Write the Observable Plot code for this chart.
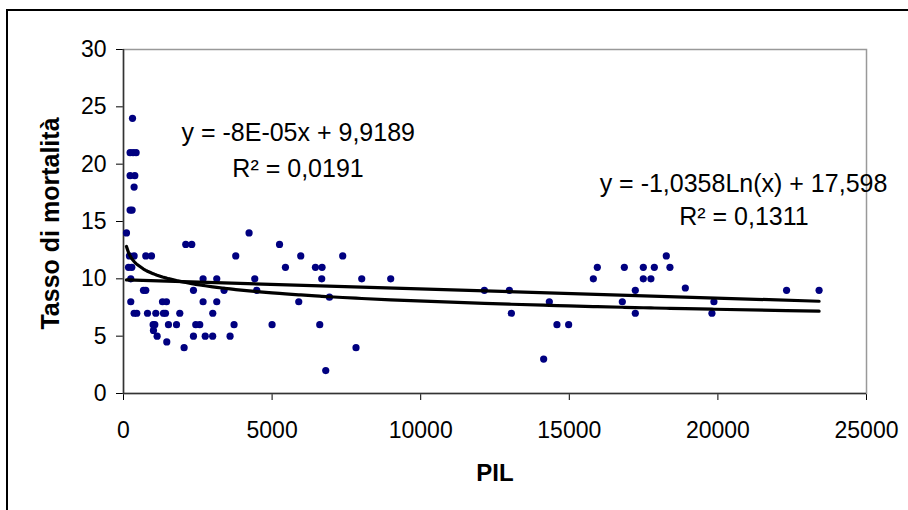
<!DOCTYPE html>
<html>
<head>
<meta charset="utf-8">
<script src="https://cdn.jsdelivr.net/npm/d3@7"></script>
<script src="https://cdn.jsdelivr.net/npm/@observablehq/plot@0.6"></script>
<style>
  html, body { margin: 0; padding: 0; background: white; overflow: hidden; }
  #wrap { position: relative; width: 908px; height: 510px; }
  #border { position: absolute; left: 6px; top: 9px; width: 1000px; height: 600px;
            border-top: 2px solid #000; border-left: 2px solid #000; pointer-events: none; }
</style>
</head>
<body>
<div id="wrap"><div id="border"></div></div>
<script>
// PIL (GDP per capita) and mortality rate
const pil = [
  100, 303, 222, 323, 424, 222, 380, 357, 222, 290,
  200, 357, 750, 942, 168, 279, 245, 672, 750, 245,
  357, 447, 807, 1087, 1345, 1413, 1894, 1312, 1446, 997,
  1053, 1513, 1783, 1008, 1131, 1456, 2039, 2095, 2297, 2354,
  2354, 2432, 2566, 2678, 2678, 2750, 3000, 3004, 3138, 3138,
  3384, 3586, 3720, 3777, 4225, 4417, 4484, 4999, 5250, 5449,
  5964, 5897, 6458, 6681, 6670, 6603, 6805, 6929, 7376, 7824,
  8016, 8991, 12142, 12983, 13051, 14137, 14328, 14585, 14978, 15809,
  15943, 16784, 16852, 17221, 17221, 17490, 17490, 17746, 17861, 18264,
  18386, 18904, 19799, 19866, 22311, 23405
];
const mortalita = [
  14, 24, 21, 21, 21, 19, 19, 18, 16, 16,
  12, 12, 12, 12, 11, 11, 10, 9, 9, 8,
  7, 7, 7, 7, 7, 7, 7, 8, 8, 6,
  6, 6, 6, 5.5, 5, 4.5, 4, 13, 13, 9,
  5, 6, 6, 10, 8, 5, 5, 7, 10, 8,
  9, 5, 6, 12, 14, 10, 9, 6, 13, 11,
  12, 8, 11, 11, 10, 6, 2, 8.4, 12, 4,
  10, 10, 9, 9, 7, 3, 8, 6, 6, 10,
  11, 8, 11, 9, 7, 11, 10, 10, 11, 12,
  11, 9.2, 7, 8, 9, 9
];

// Trendline coefficients as printed on the chart
const linSlope = -8e-5, linIntercept = 9.9189;
const logCoef = -1.0358, logIntercept = 17.598;

// Equation labels and their anchors (data coordinates)
const labelText = ["y = -8E-05x + 9,9189", "R² = 0,0191", "y = -1,0358Ln(x) + 17,598", "R² = 0,1311"];
const labelX = [1951, 3663, 16021, 18698];
const labelY = [22.7, 19.6, 18.3, 15.4];

const xTicks = [0, 5000, 10000, 15000, 20000, 25000];
const yTicks = [0, 5, 10, 15, 20, 25, 30];

const points = pil.map((x, i) => ({x, y: mortalita[i]}));
const xs = Array.from(new Set(pil)).sort((a, b) => a - b);
const xMin = xs[0], xMax = xs[xs.length - 1];
const linLine = [xMin, xMax].map(x => ({x, y: linIntercept + linSlope * x}));
const logLine = xs.map(x => ({x, y: logIntercept + logCoef * Math.log(x)}));
const labels = labelText.map((t, i) => ({t, x: labelX[i], y: labelY[i]}));

const font = "'Liberation Sans', Arial, sans-serif";

const chart = Plot.plot({
  width: 908,
  height: 510,
  marginLeft: 123,
  marginRight: 42,
  marginTop: 49,
  marginBottom: 117,
  style: {fontFamily: font, fontSize: "23px", background: "white", color: "#000", overflow: "visible"},
  x: {domain: [0, 25000], ticks: xTicks, tickFormat: "d", tickSize: 7, tickPadding: 21, label: null},
  y: {domain: [0, 30], ticks: yTicks, tickFormat: "d", tickSize: 7, tickPadding: 10, label: null},
  marks: [
    Plot.frame({stroke: "#999", strokeWidth: 1.5}),
    Plot.ruleX([0], {stroke: "#333", strokeWidth: 1.5}),
    Plot.ruleY([0], {stroke: "#333", strokeWidth: 1.5}),
    Plot.dot(points, {x: "x", y: "y", r: 3.6, fill: "#000080", stroke: "none"}),
    Plot.line(linLine, {x: "x", y: "y", stroke: "#000", strokeWidth: 3.2}),
    Plot.line(logLine, {x: "x", y: "y", stroke: "#000", strokeWidth: 3.2}),
    Plot.text(labels, {x: "x", y: "y", text: "t", textAnchor: "start", fontSize: 25, fill: "#000"}),
    Plot.text(["PIL"], {frameAnchor: "bottom", dy: 87, fontWeight: "bold", fontSize: 24, fill: "#000"}),
    Plot.text(["Tasso di mortalità"], {frameAnchor: "left", textAnchor: "middle", dx: -73, dy: 2, rotate: -90, fontWeight: "bold", fontSize: 25, fill: "#000"})
  ]
});
document.getElementById("wrap").prepend(chart);
</script>
</body>
</html>
